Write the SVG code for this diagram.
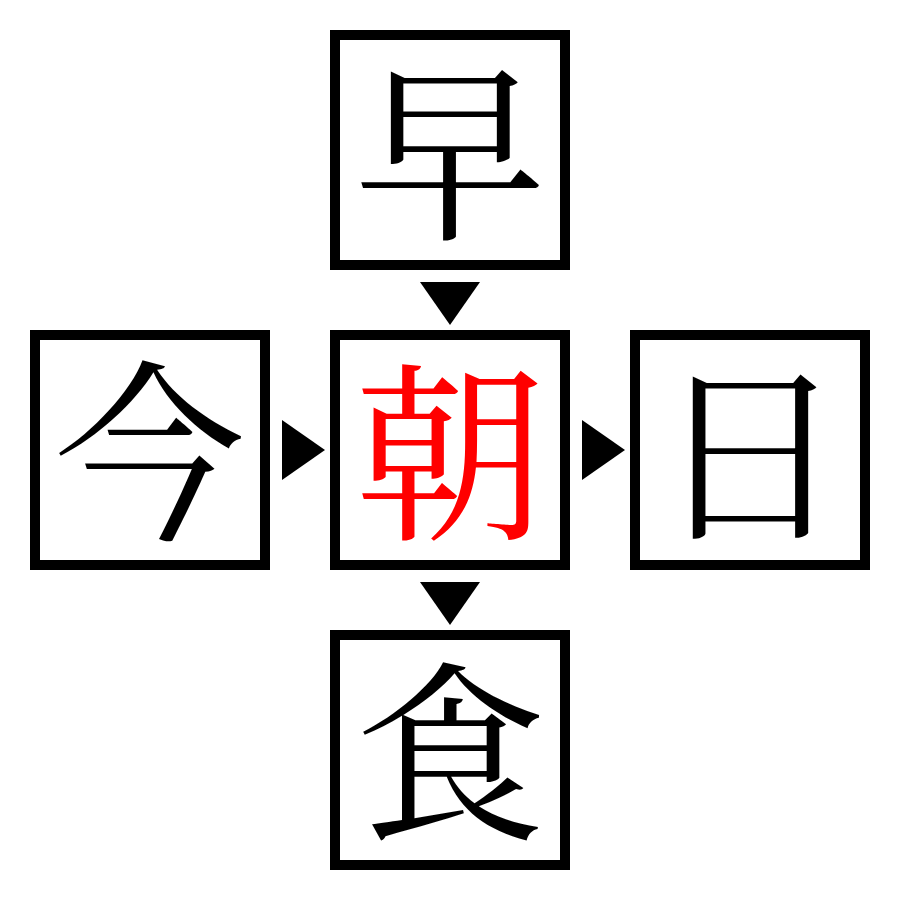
<svg xmlns="http://www.w3.org/2000/svg" width="900" height="900" viewBox="0 0 900 900">
<style>
.box{fill:#fff;stroke:#000;stroke-width:10}
.ch{font-family:"Noto Serif CJK JP","Noto Serif CJK SC","Liberation Serif","Noto Sans CJK JP",serif;font-size:192px;text-anchor:middle;fill:#000}
.red{fill:#ff0000}
.arr{fill:#000}
</style>
<rect width="900" height="900" fill="#fff"/>
<g id="top"><rect class="box" x="335" y="35" width="230" height="230"/><text class="ch" x="450" y="225">早</text></g>
<g id="left"><rect class="box" x="35" y="335" width="230" height="230"/><text class="ch" x="150" y="525">今</text></g>
<g id="center"><rect class="box" x="335" y="335" width="230" height="230"/><text class="ch red" x="450" y="525">朝</text></g>
<g id="right"><rect class="box" x="635" y="335" width="230" height="230"/><text class="ch" x="750" y="525">日</text></g>
<g id="bottom"><rect class="box" x="335" y="635" width="230" height="230"/><text class="ch" x="450" y="825">食</text></g>
<g id="connectors">
<polygon class="arr" points="420,282 480,282 450,325"/>
<polygon class="arr" points="420,582 480,582 450,625"/>
<polygon class="arr" points="282,420 282,480 325,450"/>
<polygon class="arr" points="582,420 582,480 625,450"/>
</g>
</svg>
